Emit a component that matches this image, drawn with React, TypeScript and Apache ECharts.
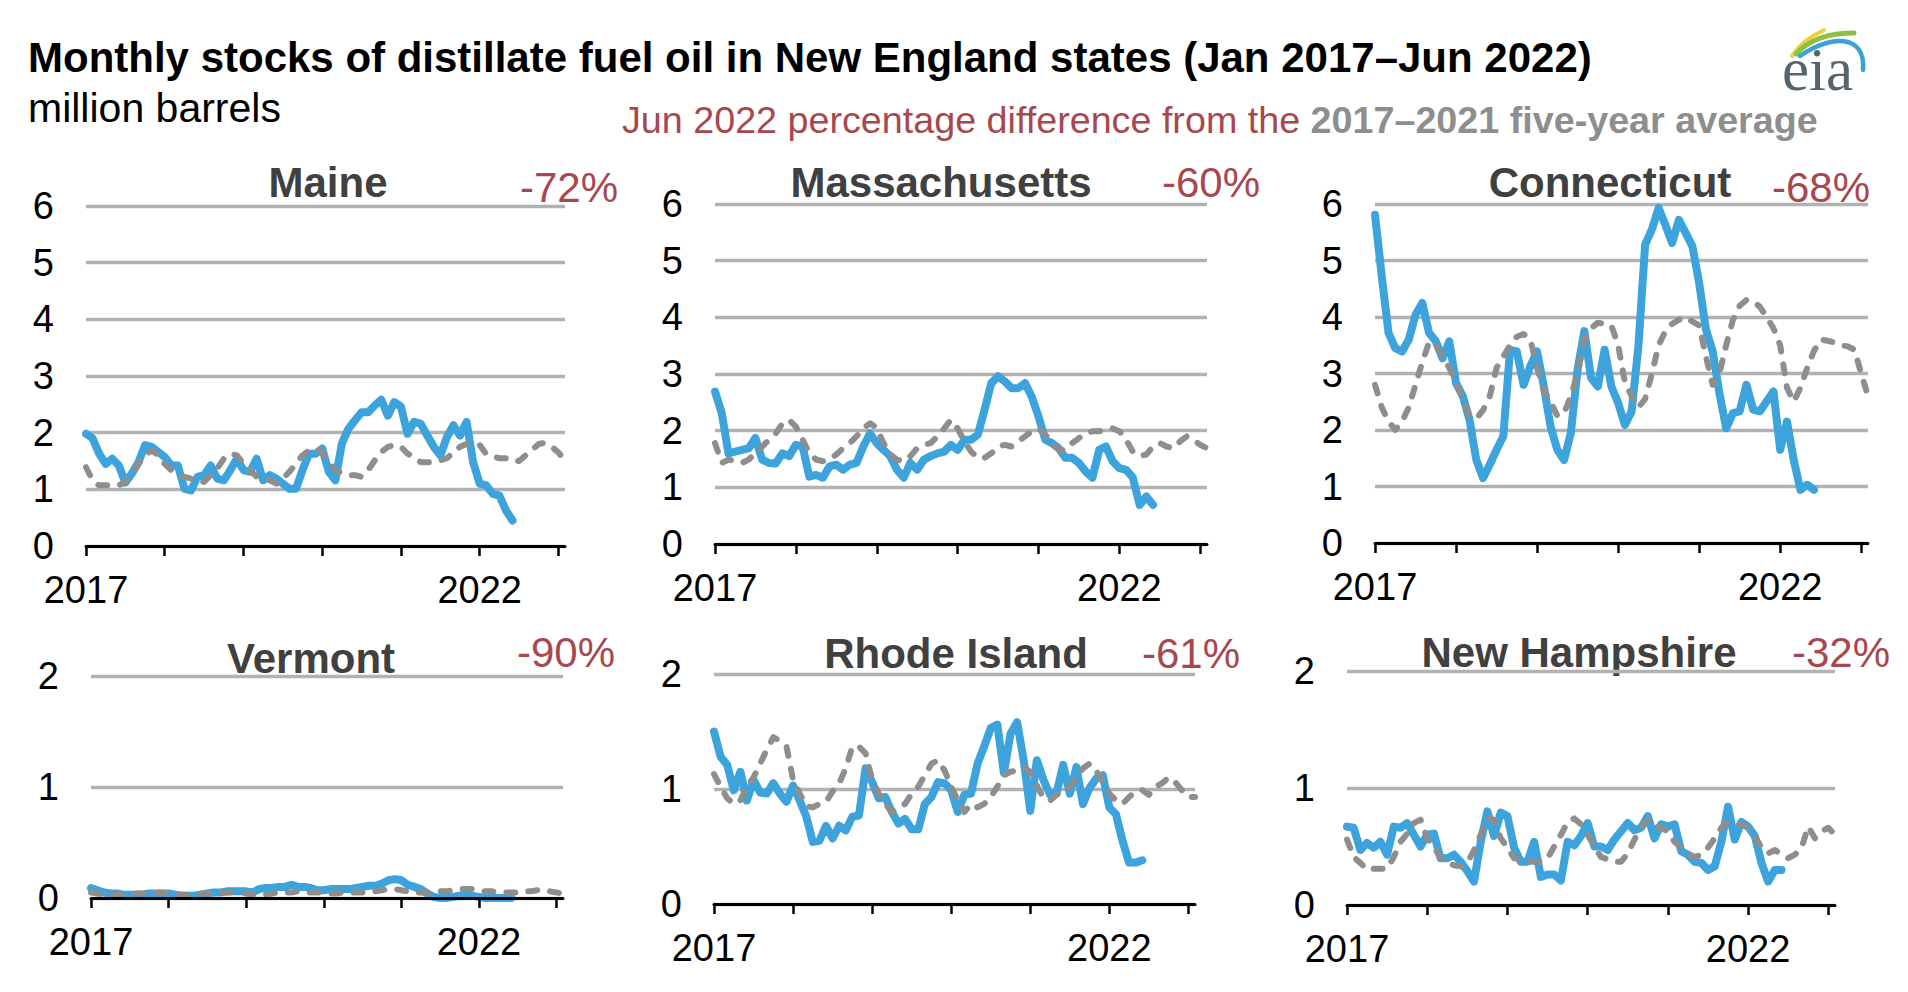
import React, { useEffect, useRef } from "react";
import * as echarts from "echarts";

// ---------------- data ----------------
const STATES = ["Maine", "Massachusetts", "Connecticut", "Vermont", "Rhode Island", "New Hampshire"];
const PCT_DIFF = ["-72%", "-60%", "-68%", "-90%", "-61%", "-32%"];
const X_TICK_LABELS = ["2017", "2022"];

// monthly stocks Jan 2017 – Jun 2022 (million barrels)
const maineActual = [1.98,1.9,1.63,1.45,1.54,1.42,1.12,1.28,1.48,1.78,1.75,1.66,1.57,1.42,1.42,1.01,0.98,1.22,1.25,1.42,1.19,1.16,1.34,1.54,1.34,1.31,1.54,1.16,1.25,1.19,1.1,1.01,1.01,1.34,1.63,1.63,1.72,1.31,1.16,1.81,2.07,2.22,2.36,2.36,2.48,2.58,2.3,2.54,2.46,1.98,2.19,2.16,1.95,1.75,1.6,1.92,2.13,1.95,2.19,1.48,1.1,1.07,0.92,0.89,0.63,0.45];
const massActual = [2.69,2.31,1.6,1.63,1.66,1.69,1.87,1.49,1.43,1.42,1.6,1.55,1.75,1.72,1.19,1.22,1.17,1.37,1.4,1.31,1.4,1.43,1.72,1.95,1.78,1.66,1.55,1.31,1.17,1.43,1.31,1.49,1.55,1.6,1.63,1.75,1.66,1.84,1.84,1.93,2.37,2.84,2.96,2.87,2.75,2.75,2.84,2.6,2.25,1.84,1.78,1.69,1.52,1.52,1.43,1.28,1.17,1.66,1.72,1.46,1.34,1.31,1.17,0.69,0.84,0.69];
const connActual = [5.81,4.72,3.72,3.45,3.39,3.6,4.04,4.25,3.72,3.57,3.27,3.57,2.83,2.6,2.18,1.47,1.15,1.39,1.65,1.89,3.42,3.39,2.8,3.13,3.39,2.77,2.06,1.65,1.47,1.95,3.07,3.75,2.92,2.77,3.42,2.77,2.48,2.09,2.33,3.48,5.28,5.55,5.93,5.63,5.31,5.72,5.49,5.25,4.6,3.78,3.39,2.65,2.03,2.3,2.33,2.8,2.36,2.33,2.51,2.68,1.65,2.15,1.47,0.94,1.03,0.94];
const vermActual = [0.09,0.07,0.05,0.04,0.04,0.03,0.03,0.03,0.03,0.04,0.04,0.04,0.04,0.03,0.02,0.02,0.02,0.03,0.04,0.05,0.05,0.06,0.06,0.06,0.06,0.05,0.08,0.09,0.09,0.1,0.1,0.12,0.1,0.1,0.09,0.07,0.07,0.08,0.08,0.08,0.08,0.09,0.1,0.11,0.11,0.13,0.16,0.17,0.16,0.12,0.1,0.08,0.04,0.01,0.0,0.0,0.01,0.02,0.03,0.02,0.01,0.0,0.0,0.0,0.0,0.0];
const rhodeActual = [1.5,1.28,1.21,0.99,1.15,0.9,1.08,0.97,0.96,1.05,0.96,0.89,1.03,0.9,0.76,0.54,0.55,0.68,0.57,0.68,0.64,0.76,0.77,1.18,1.06,0.92,0.93,0.8,0.7,0.74,0.65,0.65,0.87,0.93,1.06,1.05,0.99,0.8,0.95,0.96,1.22,1.37,1.53,1.56,1.14,1.48,1.58,1.25,0.81,1.25,1.08,0.95,0.97,1.21,0.96,1.19,0.87,1.01,1.09,1.12,0.84,0.78,0.55,0.36,0.36,0.38];
const hampActual = [0.67,0.66,0.47,0.53,0.49,0.54,0.43,0.67,0.66,0.7,0.6,0.5,0.6,0.61,0.4,0.4,0.43,0.37,0.29,0.2,0.54,0.8,0.59,0.79,0.76,0.49,0.37,0.37,0.54,0.24,0.26,0.26,0.21,0.54,0.51,0.59,0.7,0.5,0.5,0.47,0.56,0.63,0.7,0.64,0.66,0.76,0.57,0.69,0.67,0.69,0.46,0.43,0.37,0.36,0.3,0.33,0.54,0.84,0.56,0.71,0.67,0.59,0.36,0.2,0.3,0.3];

// 2017–2021 five-year average, plotted Jan 2017 – Feb 2023
const maineAvg = [1.39,1.16,1.07,1.07,1.07,1.07,1.13,1.28,1.45,1.6,1.69,1.6,1.45,1.34,1.25,1.22,1.19,1.16,1.13,1.25,1.37,1.54,1.63,1.6,1.45,1.34,1.22,1.19,1.16,1.1,1.19,1.31,1.45,1.6,1.69,1.72,1.66,1.48,1.34,1.28,1.25,1.25,1.22,1.34,1.51,1.66,1.75,1.78,1.75,1.63,1.57,1.48,1.48,1.48,1.51,1.55,1.65,1.75,1.8,1.82,1.78,1.62,1.58,1.55,1.55,1.5,1.5,1.6,1.7,1.8,1.82,1.75,1.65,1.5];
const massAvg = [1.78,1.43,1.49,1.46,1.43,1.49,1.6,1.72,1.84,1.95,2.13,2.19,2.07,1.84,1.6,1.49,1.46,1.49,1.58,1.69,1.78,1.9,2.04,2.13,2.05,1.78,1.58,1.49,1.46,1.55,1.69,1.75,1.78,1.9,2.04,2.19,2.04,1.81,1.63,1.52,1.52,1.6,1.72,1.75,1.72,1.81,1.9,1.99,2.04,1.93,1.78,1.66,1.66,1.78,1.87,1.95,1.99,1.99,2.02,2.04,1.99,1.84,1.63,1.55,1.58,1.72,1.78,1.72,1.69,1.81,1.9,1.84,1.75,1.69];
const connAvg = [2.8,2.4,2.15,2.0,2.15,2.4,2.8,3.2,3.55,3.5,3.3,3.1,2.85,2.55,2.25,2.2,2.35,2.6,3.1,3.3,3.5,3.65,3.7,3.6,3.1,2.7,2.5,2.25,2.3,2.6,3.0,3.6,3.8,3.9,3.88,3.85,3.5,2.85,2.6,2.4,2.55,3.0,3.5,3.75,3.88,3.95,4.0,3.92,3.85,3.3,2.8,3.0,3.5,3.95,4.2,4.3,4.28,4.18,4.0,3.8,3.5,2.75,2.5,2.75,3.1,3.4,3.6,3.58,3.55,3.5,3.48,3.42,3.0,2.6];
const vermAvg = [0.05,0.04,0.03,0.03,0.03,0.03,0.03,0.04,0.04,0.05,0.05,0.05,0.04,0.03,0.03,0.03,0.03,0.04,0.04,0.05,0.05,0.05,0.05,0.05,0.04,0.03,0.03,0.03,0.04,0.05,0.05,0.05,0.06,0.05,0.05,0.05,0.05,0.04,0.04,0.05,0.05,0.05,0.05,0.06,0.06,0.07,0.08,0.08,0.07,0.06,0.05,0.05,0.05,0.05,0.06,0.06,0.07,0.08,0.08,0.08,0.07,0.06,0.06,0.05,0.05,0.05,0.05,0.06,0.06,0.07,0.07,0.06,0.05,0.04];
const rhodeAvg = [1.13,1.02,0.92,0.87,0.9,1.02,1.1,1.22,1.34,1.45,1.42,1.37,1.08,0.96,0.85,0.84,0.87,0.89,0.98,1.05,1.18,1.37,1.37,1.31,1.08,0.96,0.87,0.8,0.84,0.87,0.96,1.02,1.12,1.22,1.25,1.16,1.02,0.9,0.8,0.87,0.84,0.87,0.93,1.02,1.12,1.15,1.16,1.19,1.15,1.03,0.92,0.9,0.95,0.98,1.02,1.1,1.18,1.22,1.16,1.06,0.96,0.9,0.87,0.93,0.98,0.99,0.95,1.02,1.05,1.1,1.06,0.99,0.93,0.93];
const hampAvg = [0.56,0.41,0.36,0.3,0.31,0.31,0.31,0.41,0.54,0.61,0.7,0.73,0.57,0.5,0.4,0.36,0.34,0.33,0.36,0.47,0.6,0.74,0.73,0.57,0.49,0.4,0.39,0.37,0.37,0.37,0.4,0.5,0.6,0.71,0.74,0.69,0.6,0.5,0.41,0.39,0.37,0.37,0.44,0.56,0.66,0.73,0.67,0.66,0.63,0.54,0.49,0.44,0.41,0.43,0.49,0.57,0.66,0.71,0.7,0.69,0.66,0.59,0.49,0.44,0.47,0.43,0.4,0.43,0.49,0.67,0.57,0.63,0.66,0.6];

const ACTUAL = [maineActual, massActual, connActual, vermActual, rhodeActual, hampActual];
const AVERAGE = [maineAvg, massAvg, connAvg, vermAvg, rhodeAvg, hampAvg];
const Y_MAX = [6, 6, 6, 2, 2, 2];

// ---------------- layout / style ----------------
const FONT = '"Liberation Sans", Arial, Helvetica, sans-serif';
const BLUE = "#3ca3dc";
const GREY = "#8e8e8e";
const RED = "#a8474e";

const PANELS = [
  { left: 86, top: 206, width: 479, height: 340, tx: 328, ty: 182, px: 569, py: 187 },
  { left: 715, top: 204, width: 492, height: 340, tx: 941, ty: 182, px: 1211, py: 182 },
  { left: 1375, top: 204, width: 493, height: 339, tx: 1610, ty: 182, px: 1821, py: 187 },
  { left: 91, top: 676, width: 472, height: 222, tx: 311, ty: 658, px: 566, py: 652 },
  { left: 714, top: 674, width: 481, height: 230, tx: 956, ty: 653, px: 1191, py: 653 },
  { left: 1347, top: 671, width: 488, height: 234, tx: 1579, ty: 652, px: 1841, py: 652 },
];

function textEl(x: number, y: number, text: string, opts: any) {
  return {
    type: "text",
    x,
    y,
    silent: true,
    style: {
      text,
      fontFamily: FONT,
      align: opts.align || "left",
      textAlign: opts.align || "left",
      verticalAlign: "middle",
      textVerticalAlign: "middle",
      ...opts.style,
    },
  };
}

function buildOption() {
  const grid: any[] = [];
  const xAxis: any[] = [];
  const yAxis: any[] = [];
  const series: any[] = [];
  const graphic: any[] = [];

  PANELS.forEach((p, i) => {
    grid.push({ left: p.left, top: p.top, width: p.width, height: p.height, containLabel: false });
    xAxis.push({
      gridIndex: i,
      type: "value",
      min: 0,
      max: 73,
      interval: 12,
      z: 5,
      axisLine: { show: true, onZero: false, lineStyle: { color: "#000", width: 3 } },
      axisTick: {
        show: true,
        customValues: [0, 12, 24, 36, 48, 60, 72],
        length: 10,
        lineStyle: { color: "#000", width: 2.5 },
      },
      axisLabel: {
        customValues: [0, 60],
        formatter: (v: number) => (v === 0 ? X_TICK_LABELS[0] : X_TICK_LABELS[1]),
        fontSize: 38,
        color: "#000",
        fontFamily: FONT,
        margin: 25,
      },
      splitLine: { show: false },
    });
    yAxis.push({
      gridIndex: i,
      type: "value",
      min: 0,
      max: Y_MAX[i],
      interval: 1,
      axisLine: { show: false },
      axisTick: { show: false },
      axisLabel: { fontSize: 38, color: "#000", fontFamily: FONT, margin: 32 },
      splitLine: { show: true, lineStyle: { color: "#b2b2b2", width: 3.4 } },
    });
    series.push({
      name: STATES[i] + " actual",
      type: "line",
      xAxisIndex: i,
      yAxisIndex: i,
      data: ACTUAL[i].map((v, k) => [k, v]),
      showSymbol: false,
      symbol: "none",
      silent: true,
      z: 3,
      lineStyle: { color: BLUE, width: 8, cap: "round", join: "round" },
    });
    series.push({
      name: STATES[i] + " five-year average",
      type: "line",
      xAxisIndex: i,
      yAxisIndex: i,
      data: AVERAGE[i].map((v, k) => [k, v]),
      showSymbol: false,
      symbol: "none",
      silent: true,
      z: 4,
      lineStyle: { color: GREY, width: 6, type: [9, 13], cap: "round", join: "round" },
    });
    graphic.push(
      textEl(p.tx, p.ty, STATES[i], {
        align: "center",
        style: { fontSize: 42, fontWeight: "bold", fill: "#404040" },
      })
    );
    graphic.push(
      textEl(p.px, p.py, PCT_DIFF[i], {
        align: "center",
        style: { fontSize: 42, fill: RED },
      })
    );
  });

  graphic.push(
    textEl(28, 57, "Monthly stocks of distillate fuel oil in New England states (Jan 2017\u2013Jun 2022)", {
      style: { fontSize: 42, fontWeight: "bold", fill: "#000" },
    })
  );
  graphic.push(textEl(28, 108, "million barrels", { style: { fontSize: 41, fill: "#000" } }));
  graphic.push({
    type: "text",
    x: 622,
    y: 120,
    silent: true,
    style: {
      text: "{r|Jun 2022 percentage difference from the}{g| 2017\u20132021 five-year average}",
      verticalAlign: "middle",
      textVerticalAlign: "middle",
      rich: {
        r: { fill: RED, fontSize: 37.7, fontFamily: FONT },
        g: { fill: GREY, fontSize: 37.7, fontFamily: FONT, fontWeight: "bold" },
      },
    },
  });

  // eia logo
  graphic.push({
    type: "bezierCurve",
    silent: true,
    shape: { x1: 1792, y1: 56, cpx1: 1802, cpy1: 40, x2: 1824, y2: 30 },
    style: { stroke: "#f2d03b", lineWidth: 4, fill: null, lineCap: "round" },
  });
  graphic.push({
    type: "bezierCurve",
    silent: true,
    shape: { x1: 1796, y1: 54, cpx1: 1815, cpy1: 33, x2: 1854, y2: 33 },
    style: { stroke: "#8dc045", lineWidth: 5, fill: null, lineCap: "round" },
  });
  graphic.push({
    type: "bezierCurve",
    silent: true,
    shape: { x1: 1800, y1: 56, cpx1: 1830, cpy1: 35, cpx2: 1866, cpy2: 33, x2: 1863, y2: 70 },
    style: { stroke: "#3b9fd8", lineWidth: 4.5, fill: null, lineCap: "round" },
  });
  graphic.push({
    type: "text",
    x: 1782,
    y: 69,
    silent: true,
    style: {
      text: "eia",
      fontFamily: '"Liberation Serif", "Times New Roman", serif',
      fontSize: 61,
      fill: "#56646e",
      verticalAlign: "middle",
      textVerticalAlign: "middle",
    },
  });

  return {
    animation: false,
    backgroundColor: "#ffffff",
    grid,
    xAxis,
    yAxis,
    series,
    graphic,
  };
}

export default function App() {
  const ref = useRef<HTMLDivElement>(null);
  useEffect(() => {
    if (!ref.current) return;
    const chart = echarts.init(ref.current, undefined, { renderer: "svg" });
    chart.setOption(buildOption() as any);
    return () => chart.dispose();
  }, []);
  return (
    <div
      ref={ref}
      style={{ position: "absolute", left: 0, top: 0, width: 1908, height: 992, background: "#fff" }}
    />
  );
}
